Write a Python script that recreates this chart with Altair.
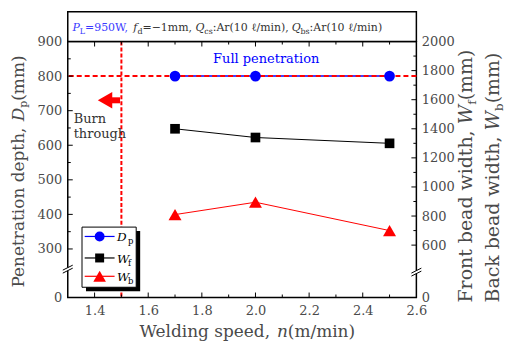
import altair as alt
import pandas as pd

# ---------------- data ----------------
speed = [1.7, 2.0, 2.5]
penetration = [800, 800, 800]          # D_p (left axis)
front_width = [1400, 1340, 1300]       # W_f (right axis)
back_width = [810, 895, 700]           # W_b (right axis)
burn_speed = [1.5]
full_depth = [800]

x_ticks = [1.4, 1.6, 1.8, 2.0, 2.2, 2.4, 2.6]
x_minor = [1.5, 1.7, 1.9, 2.1, 2.3, 2.5]
x_major_t = [1.4, 1.6, 1.8, 2.0, 2.2, 2.4]
left_ticks = [0, 300, 400, 500, 600, 700, 800, 900]
left_major_t = [300, 400, 500, 600, 700, 800]
left_minor_t = [350, 450, 550, 650, 750, 850]
right_ticks = [0, 600, 800, 1000, 1200, 1400, 1600, 1800, 2000]
right_major_t = [600, 800, 1000, 1200, 1400, 1600, 1800]
right_minor_t = [700, 900, 1100, 1300, 1500, 1700, 1900]

# ---------------- layout ----------------
W, H = 350, 257
SERIF = "DejaVu Serif"
GRAY = "#4a4a4a"
DARK = "#333333"
BLUE = "#0000ff"
RED = "#ff0000"

xs = alt.Scale(domain=[1.3, 2.6], nice=False, zero=False)
yl = alt.Scale(domain=[0, 250, 900], range=[H, 225.6, 0], nice=False, zero=False)
yr = alt.Scale(domain=[0, 450, 2000], range=[H, 226.3, 0], nice=False, zero=False)

dummy = pd.DataFrame({"d": [0]})
df = pd.DataFrame({"speed": speed, "Dp": penetration, "Wf": front_width, "Wb": back_width})

axis_common = dict(ticks=False, tickSize=0, domain=False, grid=False, title=None,
                   labelFont=SERIF, labelFontSize=13, labelColor=GRAY, labelFlush=False)
X_AX = alt.Axis(values=x_ticks, format=".1f", orient="bottom", labelPadding=7, **axis_common)


def X(field):
    return alt.X(field, scale=xs, axis=X_AX)


layers = []

# vertical red dashed line (burn-through limit)
layers.append(alt.Chart(pd.DataFrame({"v": burn_speed})).mark_rule(
    color=RED, strokeWidth=2, strokeDash=[4, 2]).encode(x=X("v:Q")))

# D_p line with left axis labels
layers.append(alt.Chart(df).mark_line(color=BLUE, strokeWidth=1.5).encode(
    x=X("speed:Q"),
    y=alt.Y("Dp:Q", scale=yl, axis=alt.Axis(values=left_ticks, format="d", orient="left",
                                            labelPadding=6, **axis_common))))

# W_f line with right axis labels
layers.append(alt.Chart(df).mark_line(color="black", strokeWidth=1).encode(
    x=X("speed:Q"),
    y=alt.Y("Wf:Q", scale=yr, axis=alt.Axis(values=right_ticks, format="d", orient="right",
                                            labelPadding=5, **axis_common))))

# horizontal red dashed line at full penetration
layers.append(alt.Chart(pd.DataFrame({"h": full_depth})).mark_rule(
    color=RED, strokeWidth=2, strokeDash=[5, 3]).encode(
    y=alt.Y("h:Q", scale=yl, axis=None)))

# W_b line
layers.append(alt.Chart(df).mark_line(color=RED, strokeWidth=1).encode(
    x=X("speed:Q"), y=alt.Y("Wb:Q", scale=yr, axis=None)))

# markers
layers.append(alt.Chart(df).mark_point(shape="circle", filled=True, size=115, color=BLUE, opacity=1).encode(
    x=X("speed:Q"), y=alt.Y("Dp:Q", scale=yl, axis=None)))
layers.append(alt.Chart(df).mark_point(shape="square", filled=True, size=94, color="black", opacity=1).encode(
    x=X("speed:Q"), y=alt.Y("Wf:Q", scale=yr, axis=None)))
layers.append(alt.Chart(df).mark_point(shape="triangle-up", filled=True, size=170, color=RED, opacity=1).encode(
    x=X("speed:Q"), y=alt.Y("Wb:Q", scale=yr, axis=None)))

# annotations in data coordinates
ann = pd.DataFrame({"x": [2.04], "y": [850], "t": ["Full penetration"]})
layers.append(alt.Chart(ann).mark_text(font=SERIF, fontSize=13, color=BLUE, baseline="middle").encode(
    x=X("x:Q"), y=alt.Y("y:Q", scale=yl, axis=None), text="t:N"))
burn = pd.DataFrame({"x": [1.322, 1.322], "y": [663, 620], "t": ["Burn", "through"]})
layers.append(alt.Chart(burn).mark_text(font=SERIF, fontSize=13, color=DARK, align="left",
                                        baseline="alphabetic").encode(
    x=X("x:Q"), y=alt.Y("y:Q", scale=yl, axis=None), text="t:N"))
arrow_head = pd.DataFrame({"x": [1.439], "y": [730]})
layers.append(alt.Chart(arrow_head).mark_point(shape="triangle-left", filled=True, size=279,
                                               color=RED, opacity=1).encode(
    x=X("x:Q"), y=alt.Y("y:Q", scale=yl, axis=None)))
arrow_stem = pd.DataFrame({"a": [1.462], "b": [1.495], "y": [730]})
layers.append(alt.Chart(arrow_stem).mark_rule(color=RED, strokeWidth=6).encode(
    x=X("a:Q"), x2="b:Q", y=alt.Y("y:Q", scale=yl, axis=None)))


# inward ticks
def xticks(vals, ln):
    d = pd.DataFrame({"t": vals})
    out = []
    for y0, y1 in [(H, H - ln), (0, ln)]:
        out.append(alt.Chart(d).mark_rule(color="black", strokeWidth=1).encode(
            x=X("t:Q"), y=alt.value(y0), y2=alt.value(y1)))
    return out


layers += xticks(x_major_t, 5) + xticks(x_minor, 3)


def yticks(vals, scale, x0, x1):
    d = pd.DataFrame({"t": vals})
    return alt.Chart(d).mark_rule(color="black", strokeWidth=1).encode(
        y=alt.Y("t:Q", scale=scale, axis=None), x=alt.value(x0), x2=alt.value(x1))


layers.append(yticks(left_major_t, yl, 0, 5))
layers.append(yticks(left_minor_t, yl, 0, 3))
layers.append(yticks(right_major_t, yr, W, W - 5))
layers.append(yticks(right_minor_t, yr, W, W - 3))


# axis breaks
def axis_break(cx, cy):
    out = [alt.Chart(dummy).mark_rect(color="white").encode(
        x=alt.value(cx - 2), x2=alt.value(cx + 2), y=alt.value(cy - 1), y2=alt.value(cy + 2))]
    for off in (-1, 2):
        out.append(alt.Chart(dummy).mark_rule(color="black", strokeWidth=1).encode(
            x=alt.value(cx - 5), x2=alt.value(cx + 5),
            y=alt.value(cy + off + 2.5), y2=alt.value(cy + off - 2.5)))
    return out


layers += axis_break(0, 228) + axis_break(W, 231)

# header box
layers.append(alt.Chart(dummy).mark_rect(fill="white", stroke="black", strokeWidth=1.5).encode(
    x=alt.value(0), x2=alt.value(W), y=alt.value(-30), y2=alt.value(0)))

# ----- rich text helper -----
WID = {" ": .318, ",": .318, ".": .318, ":": .337, "(": .390, ")": .390, "/": .337, "=": .838,
       "−": .838, "0": .636, "1": .636, "5": .636, "9": .636,
       "A": .722, "B": .735, "D": .802, "F": .694, "P": .673, "Q": .787, "W": 1.028, "L": .653,
       "a": .596, "b": .640, "c": .560, "d": .640, "e": .592, "f": .370, "g": .640, "h": .644,
       "i": .320, "l": .320, "m": .948, "n": .644, "o": .602, "p": .640, "r": .478, "s": .513,
       "t": .402, "u": .644, "w": .856, "ℓ": .42}


def tw(s, size):
    return sum(WID.get(c, 0.6) for c in s) * size


def piece_layer(x, y, text, size, style, color, angle):
    return alt.Chart(dummy).mark_text(text=text, font=SERIF, fontSize=size, fontStyle=style,
                                      color=color, angle=angle, align="left",
                                      baseline="alphabetic").encode(x=alt.value(x), y=alt.value(y))


def h_text(x, y, pieces):
    out = []
    for text, size, style, color, dy in pieces:
        out.append(piece_layer(x, y + dy, text, size, style, color, 0))
        x += tw(text, size)
    return out


def v_text(x, y, pieces):
    out = []
    for text, size, style, color, dx in pieces:
        out.append(piece_layer(x + dx, y, text, size, style, color, 270))
        y -= tw(text, size)
    return out


# header text
HB = "#3a3aff"
layers += h_text(4.7, -11, [
    ("P", 11, "italic", HB, 0), ("L", 8, "normal", HB, 3), ("=950W, ", 11, "normal", HB, 0),
    ("f", 11, "italic", DARK, 0), ("d", 8, "normal", DARK, 3), ("=−1mm, ", 11, "normal", DARK, 0),
    ("Q", 11, "italic", DARK, 0), ("cs", 8, "normal", DARK, 3), (":Ar(10 ℓ/min), ", 11, "normal", DARK, 0),
    ("Q", 11, "italic", DARK, 0), ("bs", 8, "normal", DARK, 3), (":Ar(10 ℓ/min)", 11, "normal", DARK, 0),
])

# x title
layers += h_text(72, 297, [
    ("Welding speed, ", 17, "normal", GRAY, 0), ("n", 17, "italic", GRAY, 0),
    ("(m/min)", 17, "normal", GRAY, 0)])

# left title
layers += v_text(-44, 247, [
    ("Penetration depth, ", 17, "normal", GRAY, 0), ("D", 17, "italic", GRAY, 0),
    ("p", 11, "normal", GRAY, 3), ("(mm)", 17, "normal", GRAY, 0)])

# right titles
layers += v_text(406, 262, [
    ("Front bead width, ", 19, "normal", GRAY, 0), ("W", 19, "italic", GRAY, 0),
    ("f", 12, "normal", GRAY, 4), ("(mm)", 19, "normal", GRAY, 0)])
layers += v_text(433, 262, [
    ("Back bead width, ", 19, "normal", GRAY, 0), ("W", 19, "italic", GRAY, 0),
    ("b", 12, "normal", GRAY, 4), ("(mm)", 19, "normal", GRAY, 0)])

# legend
layers.append(alt.Chart(dummy).mark_rect(color="black").encode(
    x=alt.value(18.3), x2=alt.value(72.7), y=alt.value(190.3), y2=alt.value(250.7)))
layers.append(alt.Chart(dummy).mark_rect(fill="white", stroke="black", strokeWidth=1).encode(
    x=alt.value(14.3), x2=alt.value(68.7), y=alt.value(186.3), y2=alt.value(246.7)))
leg = [(195.7, BLUE, "circle", 100, "D", "p"), (217.3, "black", "square", 81, "W", "f"),
       (235.7, RED, "triangle-up", 160, "W", "b")]
for ly, col, shp, sz, main, sub in leg:
    layers.append(alt.Chart(dummy).mark_rule(color=col, strokeWidth=1.2).encode(
        x=alt.value(17), x2=alt.value(47), y=alt.value(ly)))
    layers.append(alt.Chart(dummy).mark_point(shape=shp, filled=True, size=sz, color=col, opacity=1).encode(
        x=alt.value(32), y=alt.value(ly)))
    layers.append(piece_layer(49.5, ly + 5, main, 12, "italic", "black", 0))
    layers.append(piece_layer(60.5, ly + 8, sub, 8.5, "normal", "black", 0))

chart = alt.layer(*layers).resolve_scale(y="independent").properties(
    width=W, height=H,
    autosize=alt.AutoSizeParams(type="none"),
    padding={"left": 60, "top": 33, "right": 95, "bottom": 45},
).configure_view(stroke="black", strokeWidth=1.5)

chart.save("out.html", embed_options={"renderer": "svg", "actions": False})
